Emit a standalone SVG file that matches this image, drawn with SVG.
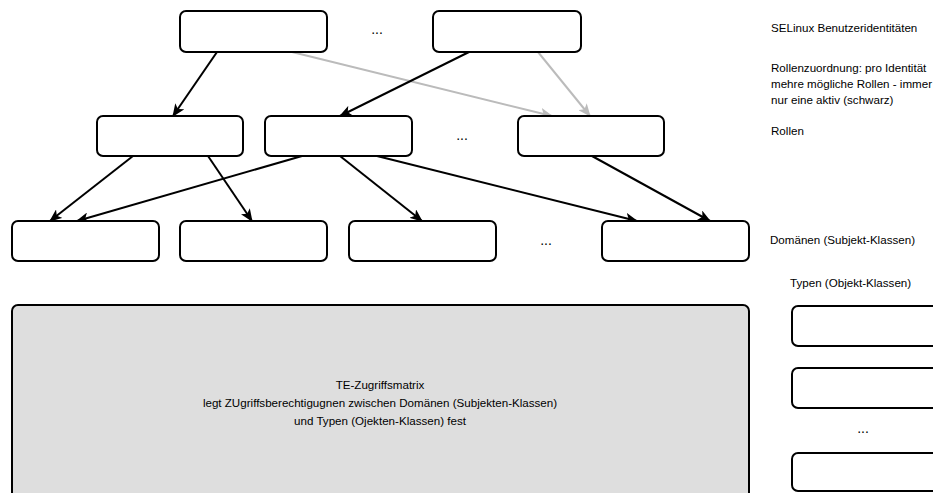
<svg xmlns="http://www.w3.org/2000/svg" width="933" height="493" viewBox="0 0 933 493">
  <style>
    .box { fill: #ffffff; stroke: #000000; stroke-width: 2; }
    .matrix { fill: #dedede; stroke: #000000; stroke-width: 2; }
    .lbl { font-family: "Liberation Sans", Arial, sans-serif; font-size: 11.6px; fill: #000000; }
    .dots { font-family: "Liberation Sans", Arial, sans-serif; font-size: 14px; fill: #000000; text-anchor: middle; }
    .mid { text-anchor: middle; }
    .edge { fill: none; stroke: #000000; stroke-width: 2; marker-end: url(#arrow); }
    .edge.inactive { stroke: #bbbbbb; marker-end: url(#arrowGray); }
  </style>
  <defs>
    <marker id="arrow" viewBox="0 0 12 10" refX="11" refY="5" markerWidth="6.5" markerHeight="5.4" orient="auto" markerUnits="strokeWidth">
      <path d="M0,0 L12,5 L0,10 L3,5 Z" fill="#000000"/>
    </marker>
    <marker id="arrowGray" viewBox="0 0 12 10" refX="11" refY="5" markerWidth="6.5" markerHeight="5.4" orient="auto" markerUnits="strokeWidth">
      <path d="M0,0 L12,5 L0,10 L3,5 Z" fill="#bbbbbb"/>
    </marker>
  </defs>

  <!-- connectors -->
  <g id="connectors">
    <!-- identities to roles -->
    <line class="edge inactive" x1="292" y1="52" x2="552" y2="116"/>
    <line class="edge inactive" x1="538" y1="52" x2="590" y2="116"/>
    <line class="edge" x1="217" y1="52" x2="173" y2="116"/>
    <line class="edge" x1="469" y1="52" x2="340" y2="116"/>
    <!-- roles to domains -->
    <line class="edge" x1="133" y1="156" x2="50" y2="221"/>
    <line class="edge" x1="208" y1="156" x2="252" y2="221"/>
    <line class="edge" x1="302" y1="156" x2="77" y2="221"/>
    <line class="edge" x1="340" y1="156" x2="422" y2="221"/>
    <line class="edge" x1="377" y1="156" x2="637" y2="221"/>
    <line class="edge" x1="592" y1="156" x2="710" y2="221"/>
  </g>

  <!-- SELinux user identities -->
  <g id="identity1"><rect class="box" x="180" y="11" width="147" height="41" rx="6"/></g>
  <g id="identity2"><rect class="box" x="433" y="11" width="148" height="41" rx="6"/></g>
  <text class="dots" x="377" y="34">...</text>

  <!-- roles -->
  <g id="role1"><rect class="box" x="97" y="116" width="146" height="40" rx="6"/></g>
  <g id="role2"><rect class="box" x="265" y="116" width="147" height="40" rx="6"/></g>
  <g id="role3"><rect class="box" x="518" y="116" width="146" height="40" rx="6"/></g>
  <text class="dots" x="462" y="140">...</text>

  <!-- domains -->
  <g id="domain1"><rect class="box" x="12" y="221" width="147" height="40" rx="6"/></g>
  <g id="domain2"><rect class="box" x="180" y="221" width="147" height="40" rx="6"/></g>
  <g id="domain3"><rect class="box" x="349" y="221" width="147" height="40" rx="6"/></g>
  <g id="domain4"><rect class="box" x="602" y="221" width="147" height="40" rx="6"/></g>
  <text class="dots" x="546" y="245">...</text>

  <!-- TE access matrix -->
  <g id="te-matrix">
    <rect class="matrix" x="12" y="305" width="737" height="195" rx="6"/>
    <text class="lbl mid" x="380" y="389">TE-Zugriffsmatrix</text>
    <text class="lbl mid" x="380" y="407">legt ZUgriffsberechtigugnen zwischen Domänen (Subjekten-Klassen)</text>
    <text class="lbl mid" x="380" y="425">und Typen (Ojekten-Klassen) fest</text>
  </g>

  <!-- types -->
  <g id="type1"><rect class="box" x="792" y="306" width="150" height="40" rx="6"/></g>
  <g id="type2"><rect class="box" x="792" y="368" width="150" height="40" rx="6"/></g>
  <g id="type3"><rect class="box" x="792" y="453" width="150" height="38" rx="6"/></g>
  <text class="dots" x="863" y="433">...</text>

  <!-- level legend -->
  <g id="legend">
    <text class="lbl" x="771" y="32">SELinux Benutzeridentitäten</text>
    <text class="lbl" x="771" y="72">Rollenzuordnung: pro Identität</text>
    <text class="lbl" x="771" y="88">mehre mögliche Rollen - immer</text>
    <text class="lbl" x="771" y="104">nur eine aktiv (schwarz)</text>
    <text class="lbl" x="771" y="135">Rollen</text>
    <text class="lbl" x="770" y="244">Domänen (Subjekt-Klassen)</text>
    <text class="lbl" x="790" y="287">Typen (Objekt-Klassen)</text>
  </g>
</svg>
